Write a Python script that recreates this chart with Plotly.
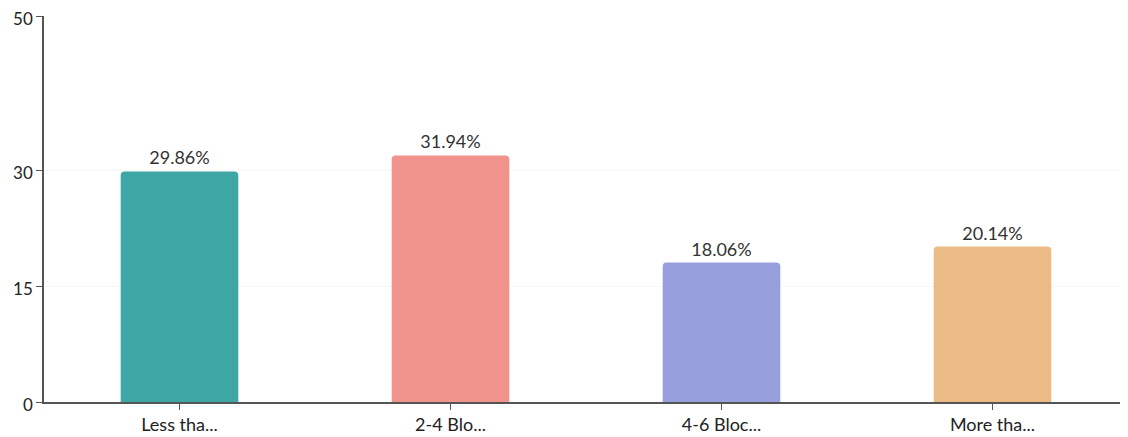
import plotly.graph_objects as go

categories = ["Less tha...", "2-4 Blo...", "4-6 Bloc...", "More tha..."]
values = [29.86, 31.94, 18.06, 20.14]
labels = ["29.86%", "31.94%", "18.06%", "20.14%"]
colors = ["#3ea7a6", "#f0938d", "#97a0dc", "#ebbb86"]
y_ticks = [0, 15, 30, 50]

fig = go.Figure(go.Bar(
    x=categories, y=values, text=labels, textposition="outside",
    marker=dict(color=colors, line=dict(width=0), cornerradius=4),
    textfont=dict(size=18, color="#333333", family="Lato"),
    width=0.434, cliponaxis=False,
))

fig.update_layout(
    width=1120, height=429,
    margin=dict(l=36, r=0, t=8, b=35),
    plot_bgcolor="white", paper_bgcolor="white",
    font=dict(family="Lato", size=18, color="#333333"),
    showlegend=False,
)
fig.update_xaxes(
    range=[-0.5, 3.5], showline=True, linecolor="#555555", linewidth=1.5,
    ticks="outside", ticklen=6, tickcolor="#555555", showgrid=False, automargin=False,
    tickfont=dict(size=18, color="#222222"), ticklabeloverflow="allow",
)
fig.update_yaxes(
    range=[0, 50], tickvals=y_ticks, showline=True, linecolor="#555555", linewidth=1.5,
    ticks="outside", ticklen=6, tickcolor="#555555", showgrid=True, gridcolor="#f6f6f6",
    zeroline=False, automargin=False, ticklabelshift=3,
    tickfont=dict(size=17, color="#222222"), ticklabeloverflow="allow",
)

fig.write_html("out.html")
